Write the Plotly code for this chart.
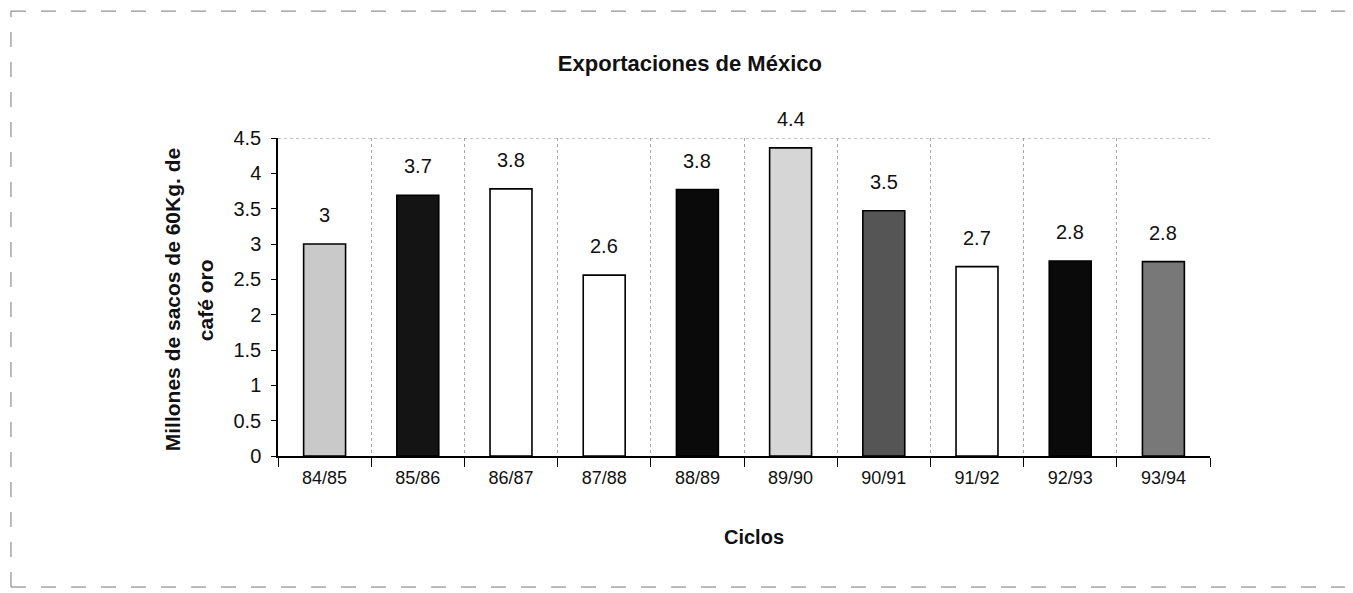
"""Exportaciones de café de México por ciclo."""

import plotly.graph_objects as go

CICLOS = ["84/85", "85/86", "86/87", "87/88", "88/89",
          "89/90", "90/91", "91/92", "92/93", "93/94"]
EXPORTACIONES = [3.0, 3.69, 3.78, 2.56, 3.77, 4.36, 3.47, 2.68, 2.76, 2.75]
ETIQUETAS = ["3", "3.7", "3.8", "2.6", "3.8", "4.4", "3.5", "2.7", "2.8", "2.8"]
RELLENOS = ["#c9c9c9", "#141414", "#ffffff", "#ffffff", "#0a0a0a",
            "#d6d6d6", "#555555", "#ffffff", "#0a0a0a", "#787878"]

FONT = "Liberation Sans, Arial, sans-serif"

fig = go.Figure(
    go.Bar(
        x=CICLOS,
        y=EXPORTACIONES,
        width=0.45,
        marker=dict(color=RELLENOS, line=dict(color="#000000", width=1.6)),
        hoverinfo="x+y",
    )
)

# etiquetas de valor sobre cada barra
for ciclo, valor, etiqueta in zip(CICLOS, EXPORTACIONES, ETIQUETAS):
    fig.add_annotation(
        x=ciclo, y=valor, text=etiqueta, showarrow=False,
        yanchor="bottom", yshift=16,
        font=dict(family=FONT, size=20, color="#111111"),
    )

# título del eje y en dos líneas
fig.add_annotation(
    xref="paper", yref="paper", x=-0.1137, y=0.49,
    xanchor="center", yanchor="middle",
    text="<b>Millones de sacos de 60Kg. de</b>",
    textangle=-90, showarrow=False,
    font=dict(family=FONT, size=21, color="#111111"),
)
fig.add_annotation(
    xref="paper", yref="paper", x=-0.0783, y=0.49,
    xanchor="center", yanchor="middle",
    text="<b>café oro</b>",
    textangle=-90, showarrow=False,
    font=dict(family=FONT, size=21, color="#111111"),
)
fig.add_annotation(
    xref="paper", yref="paper", x=0.511, y=-0.255,
    xanchor="center", yanchor="middle",
    text="<b>Ciclos</b>", showarrow=False,
    font=dict(family=FONT, size=20, color="#111111"),
)

# borde punteado superior del área de trazado
fig.add_shape(
    type="line", xref="paper", yref="y", x0=0, x1=1, y0=4.5, y1=4.5,
    line=dict(color="#8a8a8a", width=1, dash="dot"),
)
# marco exterior discontinuo: arriba, izquierda y abajo
MARCO = dict(color="#777777", width=1, dash="longdash")
fig.add_shape(type="line", xref="paper", yref="paper",
              x0=-0.2865, x1=1.16, y0=1.399, y1=1.399, line=MARCO)
fig.add_shape(type="line", xref="paper", yref="paper",
              x0=-0.2865, x1=-0.2865, y0=-0.412, y1=1.399, line=MARCO)
fig.add_shape(type="line", xref="paper", yref="paper",
              x0=-0.2865, x1=1.16, y0=-0.412, y1=-0.412, line=MARCO)

fig.update_layout(
    title=dict(
        text="<b>Exportaciones de México</b>",
        x=0.507, xanchor="center", y=0.906, yanchor="middle",
        font=dict(family=FONT, size=22, color="#111111"),
    ),
    width=1345,
    height=585,
    paper_bgcolor="white",
    plot_bgcolor="white",
    showlegend=False,
    margin=dict(l=270, r=143, t=130, b=137),
    font=dict(family=FONT, size=16, color="#111111"),
    xaxis=dict(
        type="category",
        tickson="boundaries",
        ticks="outside",
        ticklen=9,
        tickcolor="#000000",
        ticklabelstandoff=5,
        showline=True,
        linecolor="#000000",
        linewidth=1.5,
        showgrid=True,
        gridcolor="#a8a8a8",
        griddash="dot",
        gridwidth=1,
        tickfont=dict(family=FONT, size=18, color="#111111"),
    ),
    yaxis=dict(
        range=[0, 4.5],
        dtick=0.5,
        ticks="outside",
        ticklen=5,
        tickcolor="#000000",
        ticklabelstandoff=6,
        showline=True,
        linecolor="#000000",
        linewidth=1.5,
        showgrid=False,
        zeroline=False,
        tickfont=dict(family=FONT, size=20, color="#111111"),
    ),
)

fig.write_html("out.html")
